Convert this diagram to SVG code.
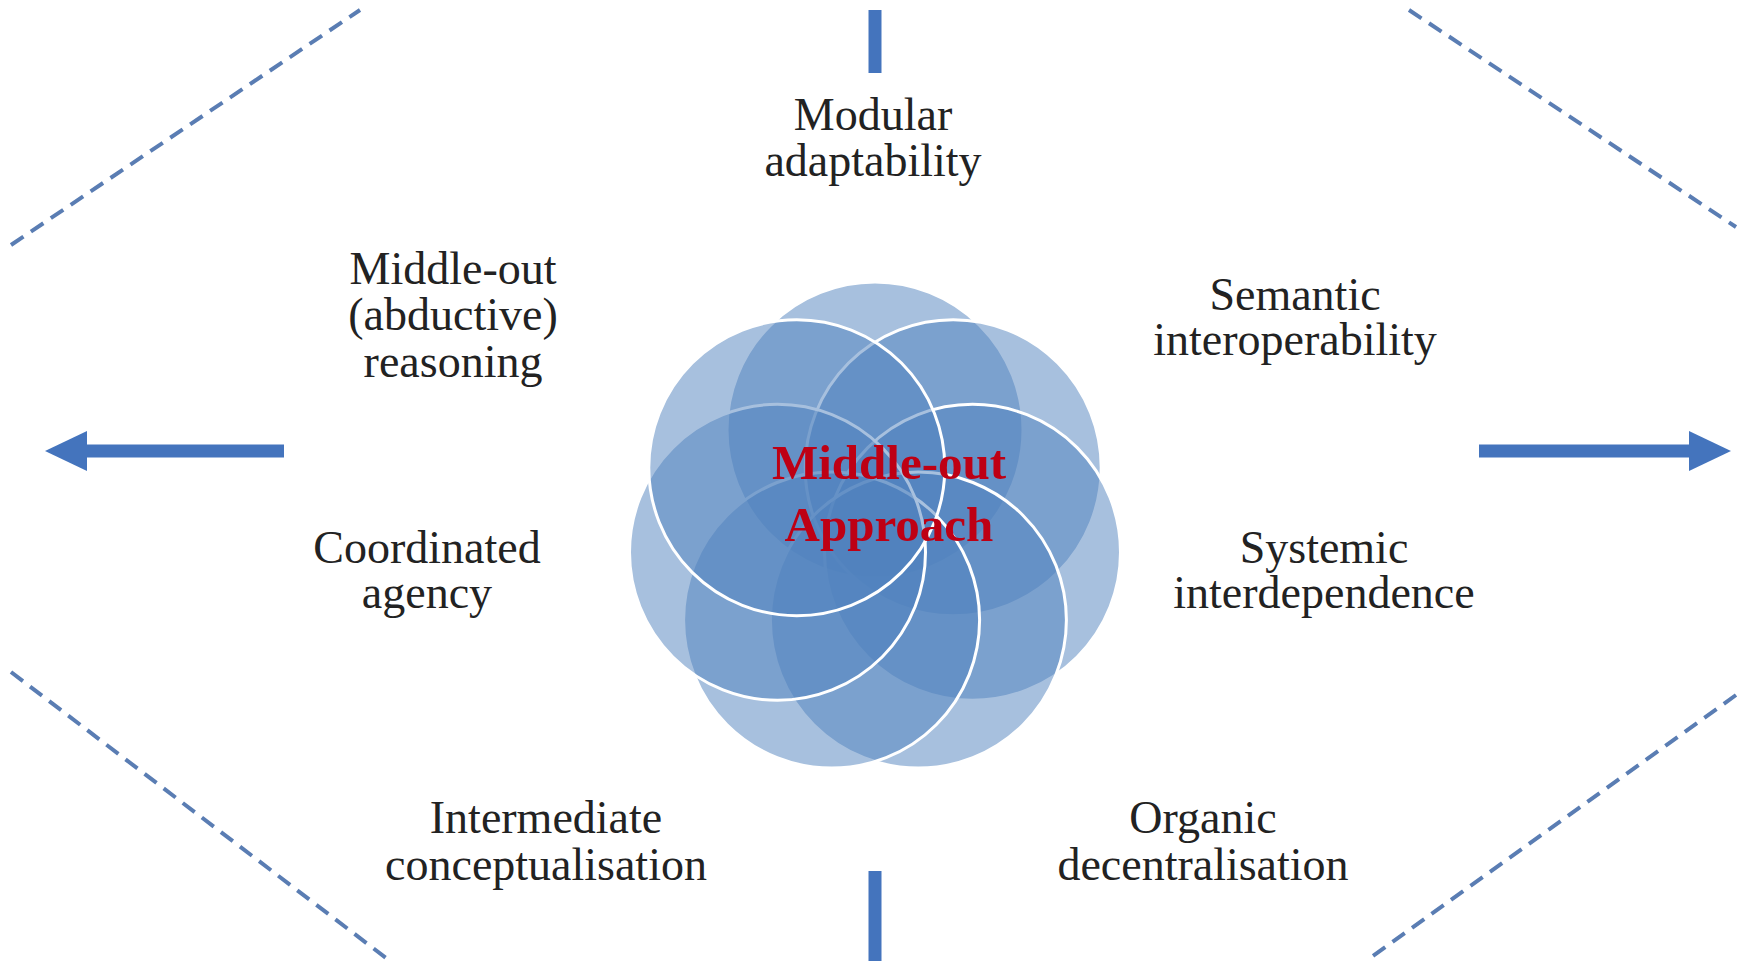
<svg xmlns="http://www.w3.org/2000/svg" width="1747" height="961" viewBox="0 0 1747 961">
<style>
.lbl{font-family:"Liberation Serif","Times New Roman",serif;font-size:46px;fill:#222;text-anchor:middle}
.ctr{font-family:"Liberation Serif","Times New Roman",serif;font-size:49px;font-weight:bold;fill:#BE0014;text-anchor:middle}
.dash{stroke:#5A7DB3;stroke-width:4;stroke-dasharray:15 9;fill:none}
.bar{stroke:#4474BD;stroke-width:13;fill:none}
.pet{fill:#4F81BD;fill-opacity:0.5;stroke:#fff;stroke-width:3}
</style>
<defs>
<marker id="ah" markerUnits="userSpaceOnUse" markerWidth="44" markerHeight="40" refX="0" refY="20" orient="auto">
<path d="M0,0 L42,20 L0,40 Z" fill="#4474BD"/>
</marker>
</defs>
<rect width="1747" height="961" fill="#fff"/>
<g id="connectors">
<line class="dash" x1="11" y1="245" x2="360" y2="10"/>
<line class="dash" x1="11" y1="672" x2="390" y2="961"/>
<line class="dash" x1="1409" y1="10" x2="1736" y2="227"/>
<line class="dash" x1="1736" y1="695" x2="1366" y2="961"/>
<line class="bar" x1="875" y1="10" x2="875" y2="73"/>
<line class="bar" x1="875" y1="871" x2="875" y2="961"/>
<line class="bar" x1="284" y1="451" x2="87" y2="451" marker-end="url(#ah)"/>
<line class="bar" x1="1479" y1="451" x2="1689" y2="451" marker-end="url(#ah)"/>
</g>
<g id="flower">
<circle class="pet" cx="875" cy="430" r="148"/>
<circle class="pet" cx="953.2" cy="467.7" r="148"/>
<circle class="pet" cx="972.5" cy="552.3" r="148"/>
<circle class="pet" cx="918.4" cy="620.1" r="148"/>
<circle class="pet" cx="831.6" cy="620.1" r="148"/>
<circle class="pet" cx="777.5" cy="552.3" r="148"/>
<circle class="pet" cx="796.8" cy="467.7" r="148"/>
<text class="ctr" x="889" y="479">Middle-out</text>
<text class="ctr" x="889" y="541">Approach</text>
</g>
<g id="n-modular"><text class="lbl" x="873" y="130">Modular</text><text class="lbl" x="873" y="176">adaptability</text></g>
<g id="n-reasoning"><text class="lbl" x="453" y="284">Middle-out</text><text class="lbl" x="453" y="330">(abductive)</text><text class="lbl" x="453" y="377">reasoning</text></g>
<g id="n-semantic"><text class="lbl" x="1295" y="310">Semantic</text><text class="lbl" x="1295" y="355">interoperability</text></g>
<g id="n-coordinated"><text class="lbl" x="427" y="563">Coordinated</text><text class="lbl" x="427" y="608">agency</text></g>
<g id="n-systemic"><text class="lbl" x="1324" y="563">Systemic</text><text class="lbl" x="1324" y="608">interdependence</text></g>
<g id="n-intermediate"><text class="lbl" x="546" y="833">Intermediate</text><text class="lbl" x="546" y="880">conceptualisation</text></g>
<g id="n-organic"><text class="lbl" x="1203" y="833">Organic</text><text class="lbl" x="1203" y="880">decentralisation</text></g>
</svg>
